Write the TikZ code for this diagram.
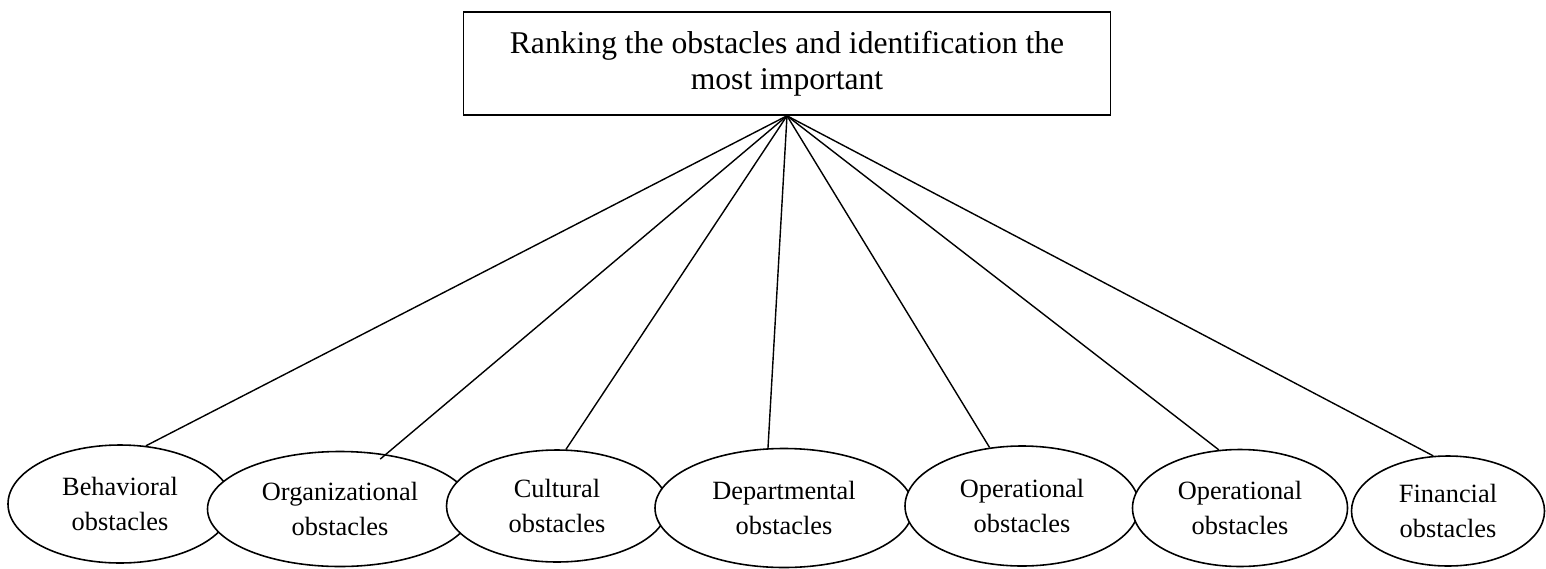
\documentclass[tikz,border=0pt]{standalone}
\usepackage{fontspec}
\setmainfont{Liberation Serif}
\usetikzlibrary{shapes, positioning}

\begin{document}
\begin{tikzpicture}[
    goal/.style={draw, line width=0.9pt, minimum width=12.94cm, minimum height=2.06cm, align=center, font=\fontsize{18}{20.5}\selectfont},
    obstacle/.style={ellipse, draw, line width=0.9pt, fill=white, inner sep=0pt, align=center, font=\fontsize{15}{19.5}\selectfont},
    link/.style={line width=0.8pt}
]
    \useasboundingbox (0,0) rectangle (30.92,11.36);

    % Top box
    \node[goal] (top) at (15.74, 10.09) {Ranking the obstacles and identification the\\most important};

    % Obstacles
    \node[obstacle, minimum width=4.48cm, minimum height=2.36cm] (beh) at (2.40, 1.28) {Behavioral\\obstacles};
    \node[obstacle, minimum width=5.30cm, minimum height=2.30cm] (org) at (6.80, 1.18) {Organizational\\obstacles};
    \node[obstacle, minimum width=4.42cm, minimum height=2.24cm] (cul) at (11.14, 1.24) {Cultural\\obstacles};
    \node[obstacle, minimum width=5.16cm, minimum height=2.38cm] (dep) at (15.68, 1.20) {Departmental\\obstacles};
    \node[obstacle, minimum width=4.68cm, minimum height=2.40cm] (opa) at (20.44, 1.24) {Operational\\obstacles};
    \node[obstacle, minimum width=4.30cm, minimum height=2.34cm] (opb) at (24.80, 1.20) {Operational\\obstacles};
    \node[obstacle, minimum width=3.86cm, minimum height=2.20cm] (fin) at (28.96, 1.14) {Financial\\obstacles};

    % Links
    \draw[link] (top.south) -- (beh.66);
    \draw[link, shorten >=-0.15cm] (top.south) -- (org.50);
    \draw[link] (top.south) -- (cul.81);
    \draw[link] (top.south) -- (dep.105);
    \draw[link] (top.south) -- (opa.119);
    \draw[link] (top.south) -- (opb.110);
    \draw[link] (top.south) -- (fin.105);
\end{tikzpicture}
\end{document}
